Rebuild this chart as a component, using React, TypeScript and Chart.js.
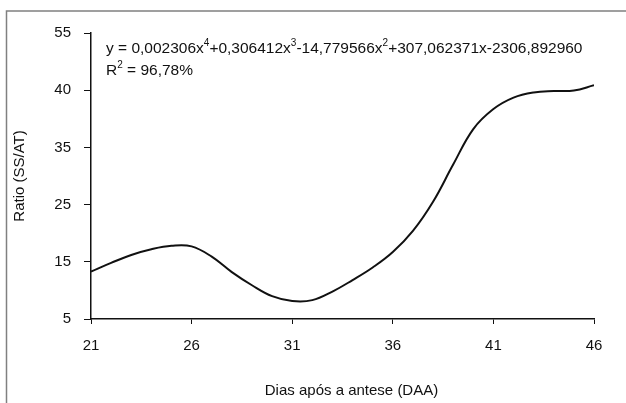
import React, { useEffect, useRef } from 'react';
import { Chart, registerables } from 'chart.js';

Chart.register(...registerables);

const days = [21, 22, 23, 24, 25, 26, 27, 28, 29, 30, 31, 32, 33, 34, 35, 36, 37, 38, 39, 40, 41, 42, 43, 44, 45, 46];
const ratio = [13.3, 14.8, 16.2, 17.2, 17.8, 17.7, 15.9, 13.2, 10.9, 9.0, 8.15, 8.3, 9.8, 11.8, 14.0, 16.7, 20.4, 25.5, 32.0, 38.2, 41.7, 43.7, 44.6, 44.85, 44.95, 45.85];
const xTickValues = [21, 26, 31, 36, 41, 46];
const yTickValues = [5, 15, 25, 35, 45, 55];
const yTickLabels = ['5', '15', '25', '35', '40', '55'];
const xTitle = 'Dias após a antese (DAA)';
const yTitle = 'Ratio (SS/AT)';
const equationLine1: [string, boolean][] = [
  ['y = 0,002306x', false], ['4', true], ['+0,306412x', false], ['3', true],
  ['-14,779566x', false], ['2', true], ['+307,062371x-2306,892960', false],
];
const equationLine2: [string, boolean][] = [['R', false], ['2', true], [' = 96,78%', false]];

const FONT = '"Liberation Sans", Arial, sans-serif';

const framePlugin = {
  id: 'frame',
  beforeDraw(chart: any) {
    const ctx = chart.ctx;
    ctx.save();
    ctx.fillStyle = '#ffffff';
    ctx.fillRect(0, 0, chart.width, chart.height);
    ctx.strokeStyle = '#808080';
    ctx.lineWidth = 1.5;
    ctx.beginPath();
    ctx.moveTo(6.5, chart.height);
    ctx.lineTo(6.5, 11);
    ctx.lineTo(chart.width, 11);
    ctx.stroke();
    ctx.restore();
  },
};

const textPlugin = {
  id: 'equation',
  afterDraw(chart: any) {
    const ctx = chart.ctx;
    const { left, top, right } = chart.chartArea;
    const drawLine = (parts: [string, boolean][], x: number, y: number) => {
      let cx = x;
      for (const [t, sup] of parts) {
        ctx.font = sup ? `10px ${FONT}` : `15.5px ${FONT}`;
        ctx.fillText(t, cx, sup ? y - 6 : y);
        cx += ctx.measureText(t).width;
      }
    };
    ctx.save();
    ctx.fillStyle = '#111';
    ctx.textBaseline = 'middle';
    ctx.textAlign = 'left';
    drawLine(equationLine1, left + 15, top + 16);
    drawLine(equationLine2, left + 15, top + 38);
    ctx.textAlign = 'center';
    ctx.font = `15px ${FONT}`;
    ctx.fillText(xTitle, (left + right) / 2 + 9, chart.height - 12);
    ctx.restore();
  },
};

export default function App() {
  const ref = useRef<HTMLCanvasElement>(null);
  useEffect(() => {
    if (!ref.current) return;
    const chart = new Chart(ref.current, {
      type: 'scatter',
      data: {
        datasets: [
          {
            data: days.map((d, i) => ({ x: d, y: ratio[i] })),
            showLine: true,
            borderColor: '#111',
            borderWidth: 2,
            pointRadius: 0,
            tension: 0.4,
            fill: false,
          },
        ],
      },
      options: {
        responsive: false,
        animation: false,
        layout: { padding: { left: 0, top: 33, right: 32, bottom: 3 } },
        plugins: { legend: { display: false }, tooltip: { enabled: false } },
        scales: {
          x: {
            type: 'linear',
            min: 21,
            max: 46,
            afterBuildTicks: (s: any) => { s.ticks = xTickValues.map((v) => ({ value: v })); },
            afterFit: (s: any) => { s.height = 81; },
            grid: { display: true, drawOnChartArea: false, drawTicks: true, tickLength: 5, color: '#111', lineWidth: 1 },
            border: { display: true, color: '#111', width: 1.5 },
            ticks: { color: '#111', font: { family: FONT, size: 15 }, padding: 13, maxRotation: 0 },
            title: { display: false },
          },
          y: {
            type: 'linear',
            min: 5,
            max: 55,
            afterBuildTicks: (s: any) => { s.ticks = yTickValues.map((v) => ({ value: v })); },
            afterFit: (s: any) => { s.width = 91; },
            grid: { display: true, drawOnChartArea: false, drawTicks: true, tickLength: 7, color: '#111', lineWidth: 1 },
            border: { display: true, color: '#111', width: 1.5 },
            ticks: {
              color: '#111',
              font: { family: FONT, size: 15 },
              padding: 13,
              callback: (_v: any, i: number) => yTickLabels[i],
            },
            title: { display: true, text: yTitle, color: '#111', font: { family: FONT, size: 15 }, padding: { top: 11, bottom: 0 } },
          },
        },
      },
      plugins: [framePlugin, textPlugin],
    } as any);
    return () => chart.destroy();
  }, []);
  return (
    <div style={{ position: 'fixed', left: 0, top: 0, width: 626, height: 403, background: '#fff' }}>
      <canvas ref={ref} width={626} height={403} style={{ display: 'block', width: 626, height: 403 }} />
    </div>
  );
}
